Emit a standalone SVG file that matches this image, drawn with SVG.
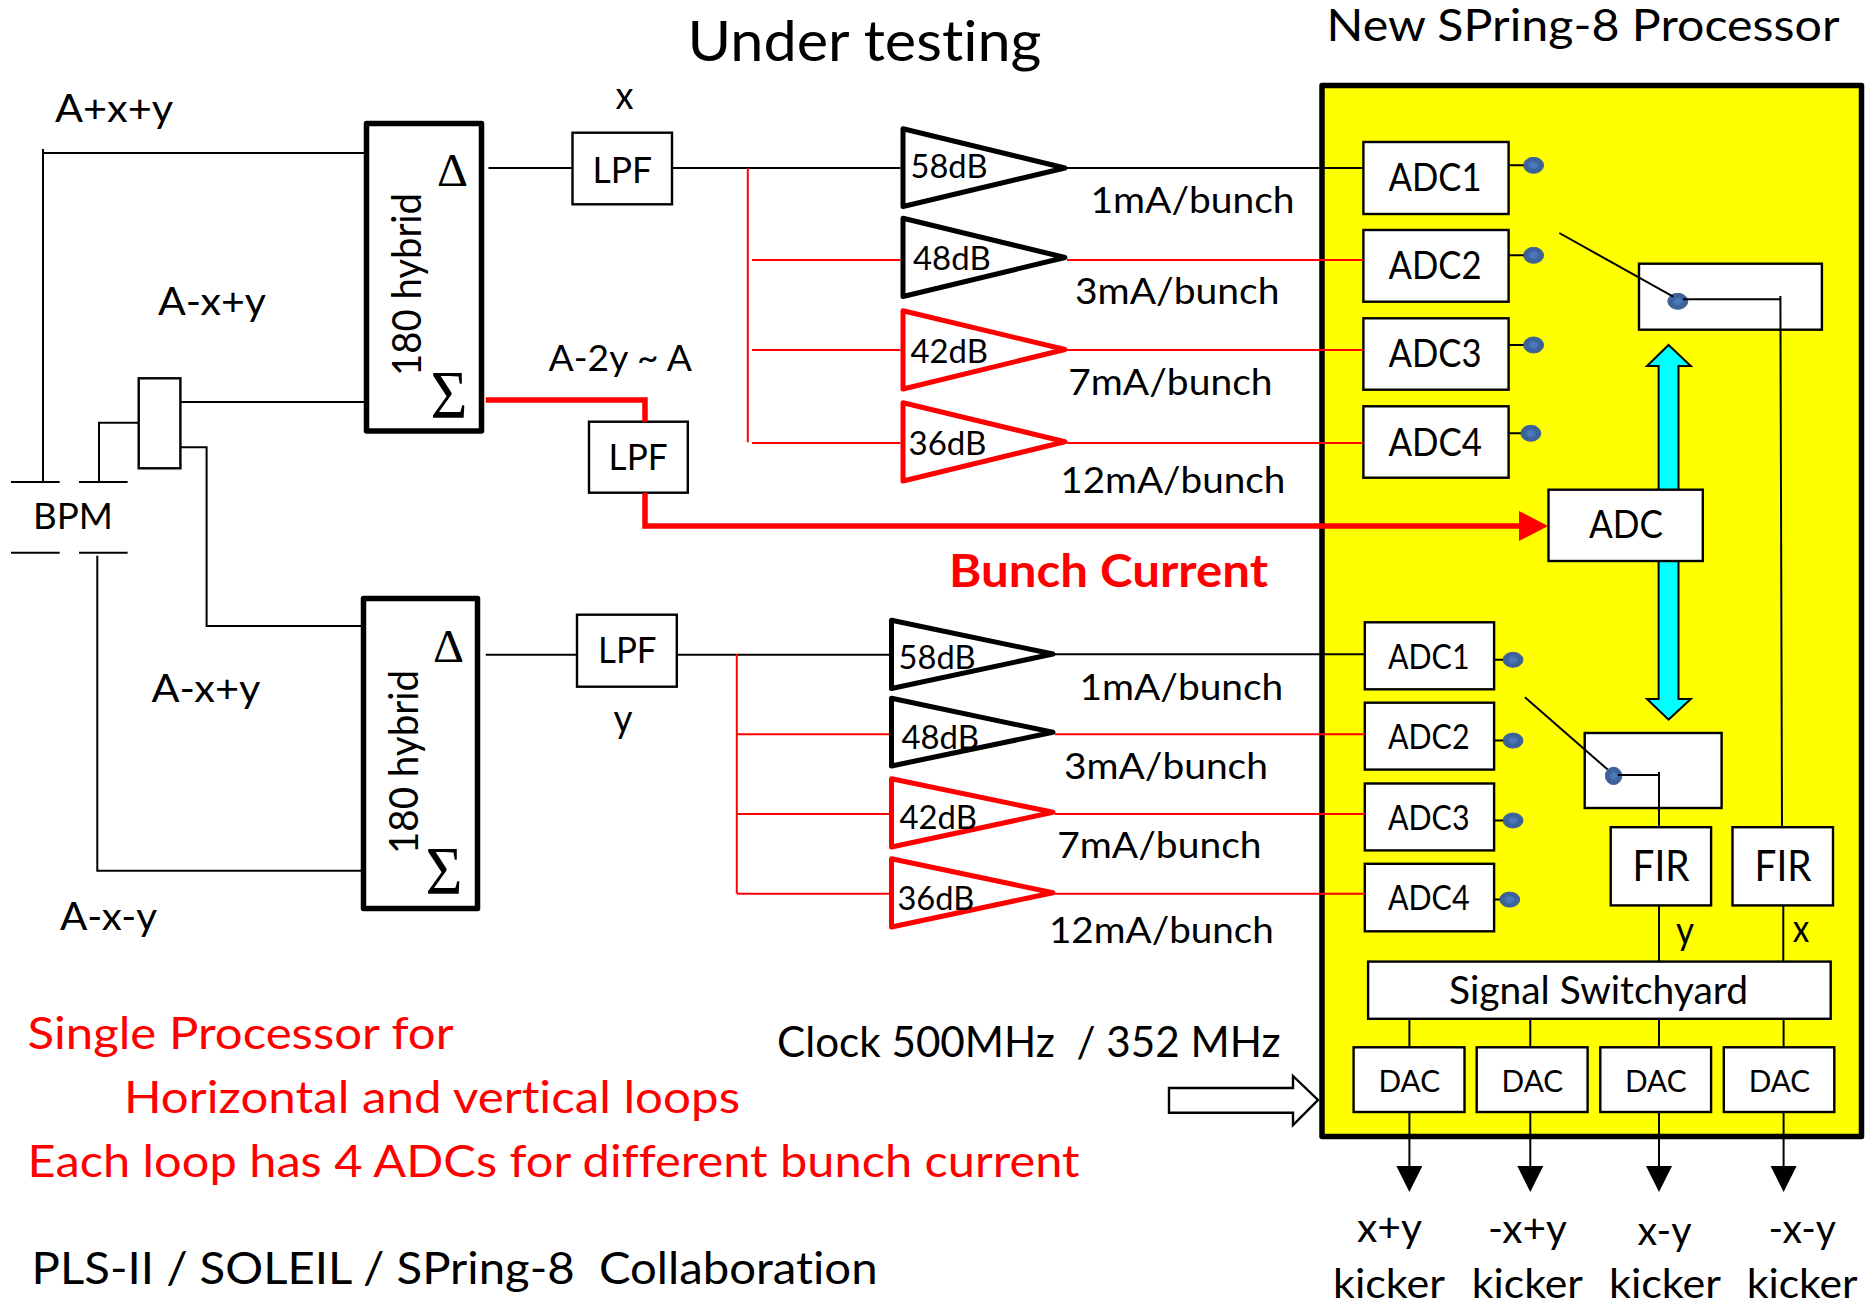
<svg xmlns="http://www.w3.org/2000/svg" width="1868" height="1304" viewBox="0 0 1868 1304">
<style>
text{font-family:Lato,"Liberation Sans",sans-serif;fill:#000;white-space:pre;font-variant-ligatures:none}
.red{fill:#f00}
.sym{font-family:"Liberation Serif",serif}
.box{fill:#fff;stroke:#000;stroke-width:2.4}
.hyb{fill:#fff;stroke:#000;stroke-width:5.5;stroke-linejoin:round}
.ampk{fill:#fff;stroke:#000;stroke-width:5;stroke-linejoin:round}
.ampr{fill:#fff;stroke:#f00;stroke-width:5;stroke-linejoin:round}
.dot{fill:url(#dotg);stroke:#3f6497;stroke-width:1}
.w{fill:none;stroke:#000;stroke-width:2}
.r{fill:none;stroke:#f00;stroke-width:2}
.R{fill:none;stroke:#f00;stroke-width:5.5}
.cy{fill:#0ff;stroke:#000;stroke-width:2}
</style>
<defs>
<radialGradient id="dotg"><stop offset="0.3" stop-color="#4a78b8"/><stop offset="0.6" stop-color="#3c6299"/></radialGradient>
<marker id="kh" markerUnits="userSpaceOnUse" markerWidth="28" markerHeight="28" refX="0" refY="13" orient="auto"><path d="M0 0L26 13L0 26Z" fill="#000"/></marker>
<marker id="rh" markerUnits="userSpaceOnUse" markerWidth="32" markerHeight="32" refX="0" refY="15" orient="auto"><path d="M0 0L29 15L0 30Z" fill="#f00"/></marker>
</defs>
<rect width="1868" height="1304" fill="#fff"/>

<g id="titles">
<text x="687.5" y="61" font-size="56" textLength="354" lengthAdjust="spacingAndGlyphs">Under testing</text>
<text x="1326.5" y="41" font-size="44" textLength="513" lengthAdjust="spacingAndGlyphs">New SPring-8 Processor</text>
</g>

<g id="processor"><rect x="1322" y="85.5" width="539.5" height="1051" fill="#ff0" stroke="#000" stroke-width="5.5" stroke-linejoin="round"/>
</g>

<g id="bpm">
<path class="w" d="M11 482H59.7M79 482H127.6M11 552.7H59.7M79 552.7H127.6"/>
<text x="33" y="529" font-size="36" textLength="80" lengthAdjust="spacingAndGlyphs">BPM</text>
</g>
<g id="splitter"><rect class="box" x="138.7" y="378.3" width="41.7" height="90"/></g>

<g id="hybrid1"><rect class="hyb" x="366.5" y="123.5" width="115" height="307.5"/>
<text transform="translate(421 376) rotate(-90)" font-size="40" textLength="183" lengthAdjust="spacingAndGlyphs">180 hybrid</text>
<text class="sym" x="437" y="186" font-size="47" textLength="31" lengthAdjust="spacingAndGlyphs">Δ</text>
<text class="sym" x="430.5" y="417" font-size="68" textLength="37" lengthAdjust="spacingAndGlyphs">Σ</text>
</g>
<g id="hybrid2"><rect class="hyb" x="363.5" y="598.5" width="114" height="310"/>
<text transform="translate(418 854) rotate(-90)" font-size="40" textLength="184" lengthAdjust="spacingAndGlyphs">180 hybrid</text>
<text class="sym" x="433" y="661.7" font-size="47" textLength="31" lengthAdjust="spacingAndGlyphs">Δ</text>
<text class="sym" x="425.5" y="893" font-size="68" textLength="37" lengthAdjust="spacingAndGlyphs">Σ</text>
</g>

<g id="lpf1"><rect class="box" x="572.5" y="132.7" width="99.5" height="71.6"/>
<text x="592.5" y="182.7" font-size="36" textLength="59.5" lengthAdjust="spacingAndGlyphs">LPF</text></g>
<g id="lpf2"><rect class="box" x="589" y="421.7" width="98.8" height="71"/>
<text x="608.6" y="470" font-size="36" textLength="59" lengthAdjust="spacingAndGlyphs">LPF</text></g>
<g id="lpf3"><rect class="box" x="577" y="614.7" width="99.8" height="72"/>
<text x="598" y="663" font-size="36" textLength="58.6" lengthAdjust="spacingAndGlyphs">LPF</text></g>

<g id="amp1"><path class="ampk" d="M903 128.8V206.5L1065 168Z"/><text x="910.5" y="178" font-size="32" textLength="77" lengthAdjust="spacingAndGlyphs">58dB</text></g>
<g id="amp2"><path class="ampk" d="M903 218.3V296.5L1065 257.5Z"/><text x="913" y="270.3" font-size="32" textLength="77.7" lengthAdjust="spacingAndGlyphs">48dB</text></g>
<g id="amp3"><path class="ampr" d="M903 310.8V389L1065 349.5Z"/><text x="910.5" y="362.6" font-size="32" textLength="77.5" lengthAdjust="spacingAndGlyphs">42dB</text></g>
<g id="amp4"><path class="ampr" d="M903 402.8V481L1065 441.7Z"/><text x="908.5" y="455.3" font-size="32" textLength="78" lengthAdjust="spacingAndGlyphs">36dB</text></g>
<g id="amp5"><path class="ampk" d="M891.5 620.3V688.5L1053 654Z"/><text x="898.6" y="668.6" font-size="32" textLength="77" lengthAdjust="spacingAndGlyphs">58dB</text></g>
<g id="amp6"><path class="ampk" d="M891.5 698.3V766L1053 732.3Z"/><text x="901.4" y="749.3" font-size="32" textLength="77.5" lengthAdjust="spacingAndGlyphs">48dB</text></g>
<g id="amp7"><path class="ampr" d="M891.5 778.8V847L1053 812.3Z"/><text x="899.4" y="829.3" font-size="32" textLength="77.5" lengthAdjust="spacingAndGlyphs">42dB</text></g>
<g id="amp8"><path class="ampr" d="M891.5 858.8V927L1053 892.7Z"/><text x="897.4" y="910.3" font-size="32" textLength="77" lengthAdjust="spacingAndGlyphs">36dB</text></g>

<g id="labels">
<text x="55" y="122" font-size="39" textLength="118" lengthAdjust="spacingAndGlyphs">A+x+y</text>
<text x="615.5" y="109" font-size="38" textLength="18" lengthAdjust="spacingAndGlyphs">x</text>
<text x="158" y="315" font-size="39" textLength="108" lengthAdjust="spacingAndGlyphs">A-x+y</text>
<text x="548.6" y="370.7" font-size="36" textLength="143.4" lengthAdjust="spacingAndGlyphs">A-2y ~ A</text>
<text x="151.4" y="701.7" font-size="39" textLength="109" lengthAdjust="spacingAndGlyphs">A-x+y</text>
<text x="60" y="930" font-size="39" textLength="97" lengthAdjust="spacingAndGlyphs">A-x-y</text>
<text x="613.5" y="731.7" font-size="38" textLength="19" lengthAdjust="spacingAndGlyphs">y</text>
<text x="1090.5" y="213" font-size="36" textLength="204" lengthAdjust="spacingAndGlyphs">1mA/bunch</text>
<text x="1075" y="304" font-size="36" textLength="204.5" lengthAdjust="spacingAndGlyphs">3mA/bunch</text>
<text x="1068.2" y="395" font-size="36" textLength="204.3" lengthAdjust="spacingAndGlyphs">7mA/bunch</text>
<text x="1060.3" y="493" font-size="36" textLength="225" lengthAdjust="spacingAndGlyphs">12mA/bunch</text>
<text x="1079.5" y="700" font-size="36" textLength="203.8" lengthAdjust="spacingAndGlyphs">1mA/bunch</text>
<text x="1063.9" y="779" font-size="36" textLength="204" lengthAdjust="spacingAndGlyphs">3mA/bunch</text>
<text x="1057.2" y="858.3" font-size="36" textLength="204.3" lengthAdjust="spacingAndGlyphs">7mA/bunch</text>
<text x="1048.9" y="943.3" font-size="36" textLength="225" lengthAdjust="spacingAndGlyphs">12mA/bunch</text>
<text class="red" x="949" y="586.7" font-size="46" font-weight="700" textLength="319" lengthAdjust="spacingAndGlyphs">Bunch Current</text>
<text class="red" x="27.6" y="1049.3" font-size="44" textLength="426" lengthAdjust="spacingAndGlyphs">Single Processor for</text>
<text class="red" x="124" y="1113" font-size="44" textLength="616" lengthAdjust="spacingAndGlyphs">Horizontal and vertical loops</text>
<text class="red" x="27.6" y="1177" font-size="44" textLength="1052" lengthAdjust="spacingAndGlyphs">Each loop has 4 ADCs for different bunch current</text>
<text x="31.6" y="1284" font-size="44" textLength="846" lengthAdjust="spacingAndGlyphs">PLS-II / SOLEIL / SPring-8  Collaboration</text>
<text x="777" y="1056.7" font-size="42" textLength="503.5" lengthAdjust="spacingAndGlyphs">Clock 500MHz  / 352 MHz</text>
<text x="1676" y="943.7" font-size="38" textLength="18" lengthAdjust="spacingAndGlyphs">y</text>
<text x="1792.7" y="941.5" font-size="38" textLength="16.5" lengthAdjust="spacingAndGlyphs">x</text>
<text x="1357" y="1241.7" font-size="41" textLength="65" lengthAdjust="spacingAndGlyphs">x+y</text>
<text x="1487.9" y="1243" font-size="41" textLength="79" lengthAdjust="spacingAndGlyphs">-x+y</text>
<text x="1637.5" y="1245" font-size="41" textLength="54" lengthAdjust="spacingAndGlyphs">x-y</text>
<text x="1768.5" y="1243" font-size="41" textLength="67.5" lengthAdjust="spacingAndGlyphs">-x-y</text>
<text x="1333" y="1297.5" font-size="41" textLength="112" lengthAdjust="spacingAndGlyphs">kicker</text>
<text x="1471.8" y="1297.5" font-size="41" textLength="111" lengthAdjust="spacingAndGlyphs">kicker</text>
<text x="1609" y="1298" font-size="41" textLength="112" lengthAdjust="spacingAndGlyphs">kicker</text>
<text x="1746.7" y="1297.5" font-size="41" textLength="111" lengthAdjust="spacingAndGlyphs">kicker</text>
</g>

<g id="clock-arrow"><path d="M1169 1088H1293V1076L1318 1100L1293 1125V1112.7H1169Z" fill="#fff" stroke="#000" stroke-width="2.4"/></g>

<g id="adc-x1"><rect class="box" x="1363.4" y="142" width="145.2" height="72"/><text x="1388.5" y="190.7" font-size="38" textLength="93" lengthAdjust="spacingAndGlyphs">ADC1</text></g>
<g id="adc-x2"><rect class="box" x="1363.4" y="230" width="145.2" height="71.7"/><text x="1388.5" y="279.3" font-size="38" textLength="93" lengthAdjust="spacingAndGlyphs">ADC2</text></g>
<g id="adc-x3"><rect class="box" x="1363.4" y="318.3" width="145.2" height="71.4"/><text x="1388.5" y="366.7" font-size="38" textLength="93" lengthAdjust="spacingAndGlyphs">ADC3</text></g>
<g id="adc-x4"><rect class="box" x="1363.4" y="406.3" width="145.2" height="71.4"/><text x="1388.5" y="455.7" font-size="38" textLength="93.5" lengthAdjust="spacingAndGlyphs">ADC4</text></g>
<g id="dots-x">
<ellipse class="dot" cx="1533.6" cy="165.3" rx="10" ry="8"/><ellipse class="dot" cx="1533.6" cy="255.3" rx="10" ry="8"/><ellipse class="dot" cx="1533.6" cy="345" rx="10" ry="8"/><ellipse class="dot" cx="1530.8" cy="433.3" rx="10" ry="8"/>
</g>

<g id="bus-arrow"><path class="cy" d="M1668.6 345L1690.8 366H1678.5V699H1690.8L1668.6 719.6L1647 699H1658.6V366H1647Z"/></g>
<g id="adc-bunch"><rect class="box" x="1548.5" y="489.7" width="154.3" height="71.3"/><text x="1589" y="538.3" font-size="38" textLength="74" lengthAdjust="spacingAndGlyphs">ADC</text></g>
<g id="switch-x"><rect class="box" x="1639" y="263.7" width="182.9" height="66"/><ellipse class="dot" cx="1677.8" cy="301.3" rx="10" ry="8"/></g>

<g id="adc-y1"><rect class="box" x="1364.8" y="622.3" width="129.3" height="67"/><text x="1388" y="669.2" font-size="34" textLength="81.5" lengthAdjust="spacingAndGlyphs">ADC1</text></g>
<g id="adc-y2"><rect class="box" x="1364.8" y="702.7" width="129.3" height="66.9"/><text x="1388" y="748.7" font-size="34" textLength="81.5" lengthAdjust="spacingAndGlyphs">ADC2</text></g>
<g id="adc-y3"><rect class="box" x="1364.8" y="783.5" width="129.3" height="66.9"/><text x="1388" y="830" font-size="34" textLength="81.5" lengthAdjust="spacingAndGlyphs">ADC3</text></g>
<g id="adc-y4"><rect class="box" x="1364.8" y="863.8" width="129.3" height="67.5"/><text x="1388" y="910.3" font-size="34" textLength="81.5" lengthAdjust="spacingAndGlyphs">ADC4</text></g>
<g id="dots-y">
<ellipse class="dot" cx="1513" cy="659.8" rx="10" ry="7.5"/><ellipse class="dot" cx="1513" cy="740.6" rx="10" ry="7.5"/><ellipse class="dot" cx="1513" cy="820.5" rx="10" ry="7.5"/><ellipse class="dot" cx="1509.7" cy="899.6" rx="10" ry="7.5"/>
</g>
<g id="switch-y"><rect class="box" x="1584.7" y="733" width="136.9" height="75"/><ellipse class="dot" cx="1613.6" cy="775.9" rx="8.2" ry="8.7"/></g>

<g id="fir-y"><rect class="box" x="1610.7" y="827.2" width="100.4" height="78.2"/><text x="1632.5" y="881" font-size="42" textLength="57" lengthAdjust="spacingAndGlyphs">FIR</text></g>
<g id="fir-x"><rect class="box" x="1732.5" y="827.2" width="100.5" height="78.2"/><text x="1754.5" y="881" font-size="42" textLength="57" lengthAdjust="spacingAndGlyphs">FIR</text></g>
<g id="switchyard"><rect class="box" x="1368.1" y="961.6" width="462.6" height="57.2"/><text x="1449" y="1004" font-size="38" textLength="299" lengthAdjust="spacingAndGlyphs">Signal Switchyard</text></g>
<g id="dac1"><rect class="box" x="1353.6" y="1047.3" width="110.9" height="64.7"/><text x="1378.5" y="1092" font-size="31" textLength="61.5" lengthAdjust="spacingAndGlyphs">DAC</text></g>
<g id="dac2"><rect class="box" x="1476.7" y="1047.3" width="110.9" height="64.7"/><text x="1501.6" y="1092" font-size="31" textLength="61.5" lengthAdjust="spacingAndGlyphs">DAC</text></g>
<g id="dac3"><rect class="box" x="1600.3" y="1047.3" width="110.8" height="64.7"/><text x="1625" y="1092" font-size="31" textLength="61.5" lengthAdjust="spacingAndGlyphs">DAC</text></g>
<g id="dac4"><rect class="box" x="1723.8" y="1047.3" width="110.5" height="64.7"/><text x="1748.7" y="1092" font-size="31" textLength="61.5" lengthAdjust="spacingAndGlyphs">DAC</text></g>

<g id="connectors">
<path class="w" d="M43 481.7V149M43 153H364"/>
<path class="w" d="M180.4 402H364"/>
<path class="w" d="M138.7 422.7H99V481.7"/>
<path class="w" d="M180.4 447.3H206.6V626H361"/>
<path class="w" d="M97.3 555.7V870.7H361"/>
<path class="w" d="M488.5 168H572.5M672 168H900.5M1067 168H1363.4"/>
<path class="R" d="M485.8 400H645V421.7"/>
<path class="R" d="M645 492.7V526H1519" marker-end="url(#rh)"/>
<path class="r" d="M747.8 168V442.3"/>
<path class="r" d="M752 260H900.5M1067 260H1363.4M752 350H900.5M1067 350H1363.4M752 443H900.5M1067 443H1363.4"/>
<path class="w" d="M485.8 654.7H577M676.8 654.7H889M1055 654.3H1364.8"/>
<path class="r" d="M736.8 654V893.7"/>
<path class="r" d="M737 734.3H889M1055 734.3H1364.8M737 814H889M1055 814H1364.8M737 893.7H889M1055 893.7H1364.8"/>
<path class="w" d="M1508.6 165.3H1523.6M1508.6 255.3H1523.6M1508.6 345H1523.6M1508.6 433.3H1520.8"/>
<path class="w" d="M1494.1 659.8H1503M1494.1 740.6H1503M1494.1 820.5H1503M1494.1 899.6H1499.7"/>
<path class="w" d="M1559.3 233L1673.2 296.7"/>
<path class="w" d="M1682.9 299.3H1781M1780.4 296L1782 827.2"/>
<path class="w" d="M1524.9 697.3L1607.7 769.6"/>
<path class="w" d="M1617.9 775H1659M1659 771.9V827.2"/>
<path class="w" d="M1659 905.4V961M1783.3 905.4V961"/>
<path class="w" d="M1409.4 1018.8V1047.3M1530.3 1018.8V1047.3M1659 1018.8V1047.3M1783.6 1018.8V1047.3"/>
<path class="w" d="M1409.4 1112V1166" marker-end="url(#kh)"/>
<path class="w" d="M1530.3 1112V1166" marker-end="url(#kh)"/>
<path class="w" d="M1659 1112V1166" marker-end="url(#kh)"/>
<path class="w" d="M1783.6 1112V1166" marker-end="url(#kh)"/>
</g>
</svg>
